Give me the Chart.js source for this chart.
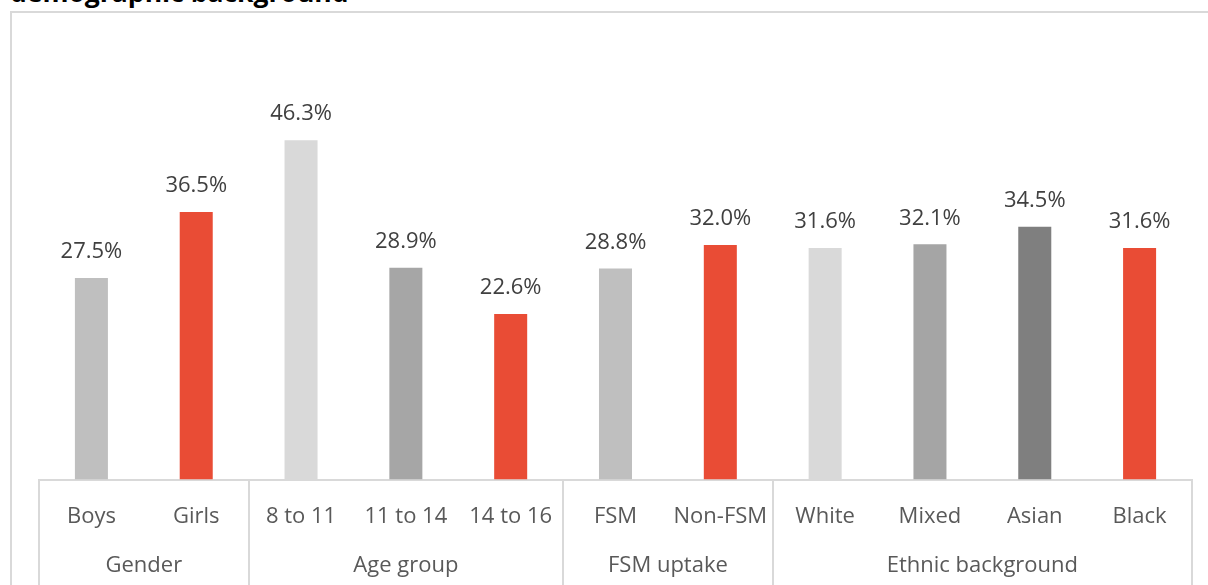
<!DOCTYPE html>
<html>
<head>
<meta charset="utf-8">
<script src="https://cdn.jsdelivr.net/npm/chart.js@4"></script>
<style>
html,body{margin:0;padding:0;background:#fff;}
#wrap{position:relative;width:1208px;height:585px;overflow:hidden;}
#frame{position:absolute;left:10px;top:11px;width:1400px;height:800px;border:2px solid #d9d9d9;box-sizing:border-box;}
#title{position:absolute;left:10px;top:-23px;font-family:"Open Sans",sans-serif;font-weight:bold;font-size:26.5px;color:#000;white-space:nowrap;line-height:30px;}
#c{position:absolute;left:0;top:0;}
</style>
</head>
<body>
<div id="wrap">
<div id="frame"></div>
<div id="title">demographic background</div>
<canvas id="c" width="1208" height="585"></canvas>
</div>
<script>
const categories = ["Boys","Girls","8 to 11","11 to 14","14 to 16","FSM","Non-FSM","White","Mixed","Asian","Black"];
const values = [27.5, 36.5, 46.3, 28.9, 22.6, 28.8, 32.0, 31.6, 32.1, 34.5, 31.6];
const groupNames = ["Gender","Age group","FSM uptake","Ethnic background"];
const groupSizes = [2, 3, 2, 4];
const barColors = ["#bfbfbf","#e94c35","#d9d9d9","#a6a6a6","#e94c35","#bfbfbf","#e94c35","#d9d9d9","#a5a5a5","#7f7f7f","#e94c35"];

const FONT = '"Open Sans", sans-serif';

const overlay = {
  id: 'overlay',
  afterDatasetsDraw(chart) {
    const ctx = chart.ctx;
    const meta = chart.getDatasetMeta(0);
    ctx.save();
    ctx.font = '22px ' + FONT;
    ctx.fillStyle = '#404040';
    ctx.textAlign = 'center';
    ctx.textBaseline = 'middle';
    meta.data.forEach((bar, i) => {
      ctx.fillText(values[i].toFixed(1) + '%', bar.x, bar.y - 26);
    });
    ctx.restore();
  },
  afterDraw(chart) {
    const ctx = chart.ctx;
    const x = chart.scales.x;
    const area = chart.chartArea;
    const half = (x.getPixelForValue(1) - x.getPixelForValue(0)) / 2;
    ctx.save();
    ctx.strokeStyle = '#d9d9d9';
    ctx.lineWidth = 2;
    let idx = 0;
    const bounds = [x.getPixelForValue(0) - half];
    groupSizes.forEach(n => { idx += n; bounds.push(x.getPixelForValue(idx - 1) + half); });
    bounds.forEach(bx => {
      ctx.beginPath();
      ctx.moveTo(Math.round(bx), area.bottom);
      ctx.lineTo(Math.round(bx), chart.height);
      ctx.stroke();
    });
    ctx.font = '22px ' + FONT;
    ctx.fillStyle = '#595959';
    ctx.textAlign = 'center';
    ctx.textBaseline = 'middle';
    groupNames.forEach((g, i) => {
      ctx.fillText(g, (bounds[i] + bounds[i + 1]) / 2, 566);
    });
    ctx.restore();
  }
};

new Chart(document.getElementById('c'), {
  type: 'bar',
  data: {
    labels: categories,
    datasets: [{
      data: values,
      backgroundColor: barColors,
      barPercentage: 0.63,
      categoryPercentage: 0.5
    }]
  },
  options: {
    responsive: false,
    animation: false,
    layout: { padding: { left: 39, right: 16, top: 113, bottom: 31 } },
    plugins: { legend: { display: false }, tooltip: { enabled: false } },
    scales: {
      y: { display: false, min: 0, max: 50 },
      x: {
        grid: { display: false, drawTicks: false },
        border: { display: true, color: '#d9d9d9', width: 2 },
        ticks: { color: '#595959', font: { family: FONT, size: 22 }, padding: 24, maxRotation: 0, autoSkip: false }
      }
    }
  },
  plugins: [overlay]
});
</script>
</body>
</html>
